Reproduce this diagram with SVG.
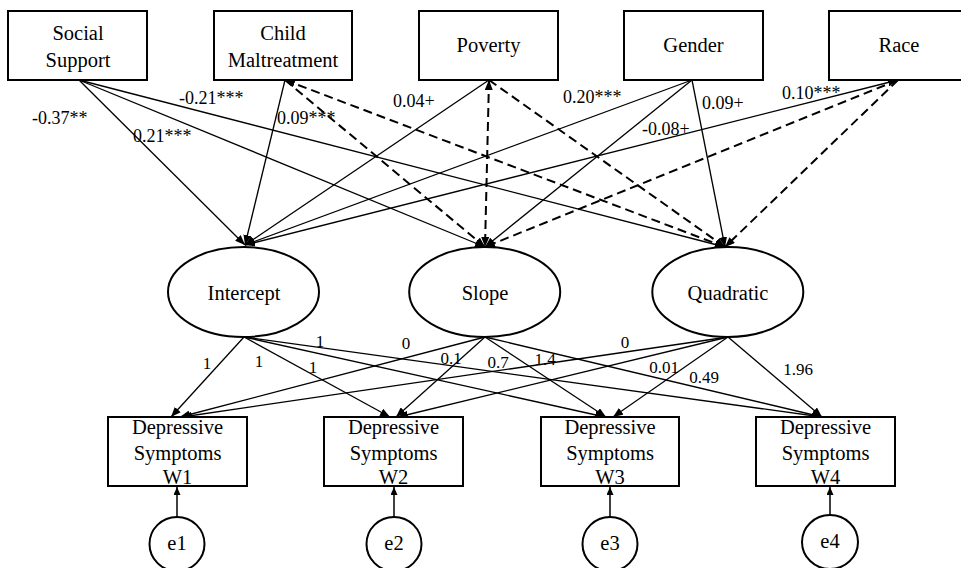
<svg xmlns="http://www.w3.org/2000/svg" width="961" height="568" viewBox="0 0 961 568">
<style>
.box{fill:#fff;stroke:#000;stroke-width:2}
.ell{fill:#fff;stroke:#000;stroke-width:2}
.s{fill:none;stroke:#000;stroke-width:1.3;marker-end:url(#ah)}
.d{fill:none;stroke:#000;stroke-width:2;stroke-dasharray:9 5;marker-end:url(#ah)}
</style>
<defs>
<marker id="ah" markerUnits="userSpaceOnUse" markerWidth="11" markerHeight="8" refX="10" refY="4" orient="auto"><path d="M0,0 L10,4 L0,8 z" fill="#000"/></marker>
<marker id="as" markerUnits="userSpaceOnUse" markerWidth="11" markerHeight="8" refX="10" refY="4" orient="auto-start-reverse"><path d="M0,0 L10,4 L0,8 z" fill="#000"/></marker>
<marker id="ae" markerUnits="userSpaceOnUse" markerWidth="9" markerHeight="7" refX="8" refY="3.5" orient="auto"><path d="M0,0 L8,3.5 L0,7 z" fill="#000"/></marker>
</defs>
<rect width="961" height="568" fill="#fff"/>
<g id="connectors">
<line class="s" x1="79" y1="80" x2="245" y2="245"/>
<line class="s" x1="79" y1="80" x2="485" y2="247"/>
<line class="s" x1="79" y1="80" x2="725" y2="247"/>
<line class="s" x1="285" y1="80" x2="245" y2="245"/>
<line class="d" x1="285" y1="80" x2="485" y2="247"/>
<line class="d" x1="285" y1="80" x2="725" y2="247" style="marker-start:url(#as)"/>
<line class="s" x1="489" y1="80" x2="245" y2="245"/>
<line class="d" x1="489" y1="80" x2="485" y2="247" style="marker-start:url(#as)"/>
<line class="d" x1="489" y1="80" x2="725" y2="247"/>
<line class="s" x1="692" y1="80" x2="245" y2="245"/>
<line class="s" x1="692" y1="80" x2="485" y2="247"/>
<line class="s" x1="692" y1="80" x2="725" y2="247"/>
<line class="s" x1="898" y1="80" x2="245" y2="245" style="marker-start:url(#as)"/>
<line class="d" x1="898" y1="80" x2="485" y2="247"/>
<line class="d" x1="898" y1="80" x2="725" y2="247"/>
<line class="s" x1="244" y1="337" x2="171" y2="417"/>
<line class="s" x1="244" y1="337" x2="390" y2="417"/>
<line class="s" x1="244" y1="337" x2="605" y2="417"/>
<line class="s" x1="244" y1="337" x2="822" y2="417"/>
<line class="s" x1="485" y1="337" x2="180" y2="417"/>
<line class="s" x1="485" y1="337" x2="396" y2="417"/>
<line class="s" x1="485" y1="337" x2="606" y2="417"/>
<line class="s" x1="485" y1="337" x2="822" y2="417"/>
<line class="s" x1="728" y1="337" x2="182" y2="417"/>
<line class="s" x1="728" y1="337" x2="398" y2="417"/>
<line class="s" x1="728" y1="337" x2="613" y2="417"/>
<line class="s" x1="728" y1="337" x2="822" y2="417"/>
<line x1="177" y1="517" x2="177" y2="487" stroke="#000" stroke-width="1.5" marker-end="url(#ae)"/>
<line x1="394" y1="517" x2="394" y2="487" stroke="#000" stroke-width="1.5" marker-end="url(#ae)"/>
<line x1="610" y1="517" x2="610" y2="487" stroke="#000" stroke-width="1.5" marker-end="url(#ae)"/>
<line x1="830" y1="515" x2="830" y2="487" stroke="#000" stroke-width="1.5" marker-end="url(#ae)"/>
</g>
<g id="labels" font-family="Liberation Serif" font-size="18">
<text x="32" y="124" style="font-family:'Liberation Serif',serif">-0.37**</text>
<text x="179" y="104" style="font-family:'Liberation Serif',serif">-0.21***</text>
<text x="133" y="142" style="font-family:'Liberation Serif',serif">0.21***</text>
<text x="277" y="124" style="font-family:'Liberation Serif',serif">0.09***</text>
<text x="393" y="107" style="font-family:'Liberation Serif',serif">0.04+</text>
<text x="563" y="103" style="font-family:'Liberation Serif',serif">0.20***</text>
<text x="702" y="109" style="font-family:'Liberation Serif',serif">0.09+</text>
<text x="782" y="99" style="font-family:'Liberation Serif',serif">0.10***</text>
<text x="642" y="135" style="font-family:'Liberation Serif',serif">-0.08+</text>
</g>
<g id="loadings" font-family="Liberation Serif" font-size="17" text-anchor="middle">
<text x="207" y="369" style="font-family:'Liberation Serif',serif">1</text>
<text x="259" y="367" style="font-family:'Liberation Serif',serif">1</text>
<text x="320" y="347" style="font-family:'Liberation Serif',serif">1</text>
<text x="313" y="373" style="font-family:'Liberation Serif',serif">1</text>
<text x="406" y="349" style="font-family:'Liberation Serif',serif">0</text>
<text x="451" y="364" style="font-family:'Liberation Serif',serif">0.1</text>
<text x="498" y="368" style="font-family:'Liberation Serif',serif">0.7</text>
<text x="545" y="365" style="font-family:'Liberation Serif',serif">1.4</text>
<text x="625" y="348" style="font-family:'Liberation Serif',serif">0</text>
<text x="664" y="373" style="font-family:'Liberation Serif',serif">0.01</text>
<text x="704" y="383" style="font-family:'Liberation Serif',serif">0.49</text>
<text x="798" y="375" style="font-family:'Liberation Serif',serif">1.96</text>
</g>
<g id="nodes" font-family="Liberation Serif" font-size="20.5" text-anchor="middle">
<g id="social-support"><rect class="box" x="8" y="11" width="139" height="69"/><text x="78" y="40" style="font-family:'Liberation Serif',serif">Social</text><text x="78" y="67" style="font-family:'Liberation Serif',serif">Support</text></g>
<g id="child-maltreatment"><rect class="box" x="214" y="11" width="138" height="69"/><text x="283" y="40" style="font-family:'Liberation Serif',serif">Child</text><text x="283" y="67" style="font-family:'Liberation Serif',serif">Maltreatment</text></g>
<g id="poverty"><rect class="box" x="419" y="11" width="139" height="69"/><text x="488.5" y="52" style="font-family:'Liberation Serif',serif">Poverty</text></g>
<g id="gender"><rect class="box" x="624" y="11" width="139" height="69"/><text x="693.5" y="52" style="font-family:'Liberation Serif',serif">Gender</text></g>
<g id="race"><rect class="box" x="829" y="11" width="139" height="69"/><text x="899" y="52" style="font-family:'Liberation Serif',serif">Race</text></g>
<g id="intercept"><ellipse class="ell" cx="243.5" cy="292" rx="75.5" ry="45"/><text x="244" y="300" style="font-family:'Liberation Serif',serif">Intercept</text></g>
<g id="slope"><ellipse class="ell" cx="484.7" cy="292" rx="75.5" ry="45"/><text x="485" y="300" style="font-family:'Liberation Serif',serif">Slope</text></g>
<g id="quadratic"><ellipse class="ell" cx="727.8" cy="292" rx="75.5" ry="45"/><text x="728" y="300" style="font-family:'Liberation Serif',serif">Quadratic</text></g>
<g id="w1"><rect class="box" x="108" y="417" width="139" height="69"/><text x="177.5" y="434" style="font-family:'Liberation Serif',serif">Depressive</text><text x="177.5" y="459.5" style="font-family:'Liberation Serif',serif">Symptoms</text><text x="177.5" y="484" style="font-family:'Liberation Serif',serif">W1</text></g>
<g id="w2"><rect class="box" x="324" y="417" width="139" height="69"/><text x="393.5" y="434" style="font-family:'Liberation Serif',serif">Depressive</text><text x="393.5" y="459.5" style="font-family:'Liberation Serif',serif">Symptoms</text><text x="393.5" y="484" style="font-family:'Liberation Serif',serif">W2</text></g>
<g id="w3"><rect class="box" x="541" y="417" width="138" height="69"/><text x="610" y="434" style="font-family:'Liberation Serif',serif">Depressive</text><text x="610" y="459.5" style="font-family:'Liberation Serif',serif">Symptoms</text><text x="610" y="484" style="font-family:'Liberation Serif',serif">W3</text></g>
<g id="w4"><rect class="box" x="756" y="417" width="139" height="69"/><text x="825.5" y="434" style="font-family:'Liberation Serif',serif">Depressive</text><text x="825.5" y="459.5" style="font-family:'Liberation Serif',serif">Symptoms</text><text x="825.5" y="484" style="font-family:'Liberation Serif',serif">W4</text></g>
<g id="e1"><ellipse class="ell" cx="177" cy="544" rx="27.5" ry="27"/><text x="177" y="550" style="font-family:'Liberation Serif',serif">e1</text></g>
<g id="e2"><ellipse class="ell" cx="394" cy="544" rx="27.5" ry="27"/><text x="394" y="550" style="font-family:'Liberation Serif',serif">e2</text></g>
<g id="e3"><ellipse class="ell" cx="610" cy="544" rx="27.5" ry="27"/><text x="610" y="550" style="font-family:'Liberation Serif',serif">e3</text></g>
<g id="e4"><ellipse class="ell" cx="830" cy="542" rx="28" ry="27"/><text x="830" y="548" style="font-family:'Liberation Serif',serif">e4</text></g>
</g>
</svg>
